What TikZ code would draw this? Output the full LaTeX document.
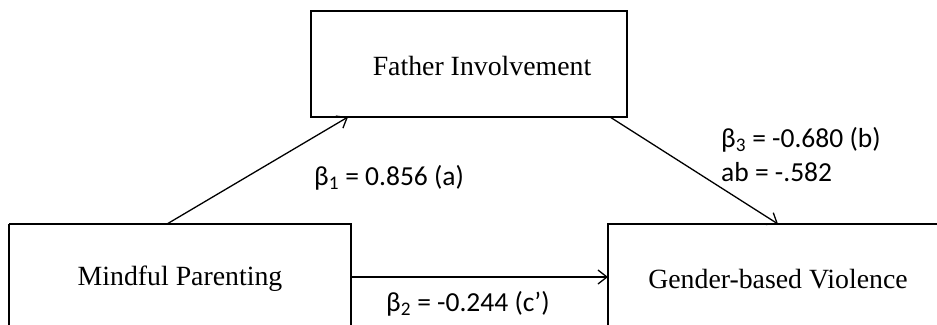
\documentclass[tikz,border=0pt]{standalone}
\usepackage{fontspec}
\setmainfont{Liberation Serif}
\newfontfamily\lblfont{Carlito}
\usetikzlibrary{arrows.meta}
\begin{document}
\begin{tikzpicture}[x=1pt,y=-1pt,
  box/.style={draw,line width=1.8pt,inner sep=0pt},
  boxtext/.style={font=\fontsize{27.8}{32}\selectfont},
  lbl/.style={font=\lblfont\fontsize{27.5}{30}\selectfont,inner sep=0pt,anchor=west},
  conn/.style={line width=1.3pt,-{Straight Barb[length=9pt,width=14pt,line width=1.3pt]}}]
\useasboundingbox (0,0) rectangle (937,324);
\draw[box] (311,11) rectangle (627,117);
\node[boxtext] (fi) at (482,66) {Father Involvement};
\coordinate (fiL) at (348,117);
\coordinate (fiR) at (610,117);
\draw[box] (9,224) -- (9,330) (9,224) -- (351,224) -- (351,330);
\node[boxtext] (mp) at (180,279) {Mindful Parenting};
\coordinate (mpT) at (167,224);
\coordinate (mpR) at (351,277);
\draw[box] (608,330) -- (608,224) -- (940,224);
\node[boxtext] (gv) at (778,279) {Gender-based Violence};
\coordinate (gvT) at (778,224);
\coordinate (gvL) at (608,277);
\draw[conn] (mpT) -- (fiL);
\draw[conn] (fiR) -- (gvT);
\draw[conn] (mpR) -- (gvL);
\node[lbl] (a) at (314,178) {β\textsubscript{1} = 0.856 (a)};
\node[lbl] (b) at (721,140) {β\textsubscript{3} = -0.680 (b)};
\node[lbl] (ab) at (721,172) {ab = -.582};
\node[lbl] (c) at (386,304) {β\textsubscript{2} = -0.244 (c’)};
\end{tikzpicture}
\end{document}
